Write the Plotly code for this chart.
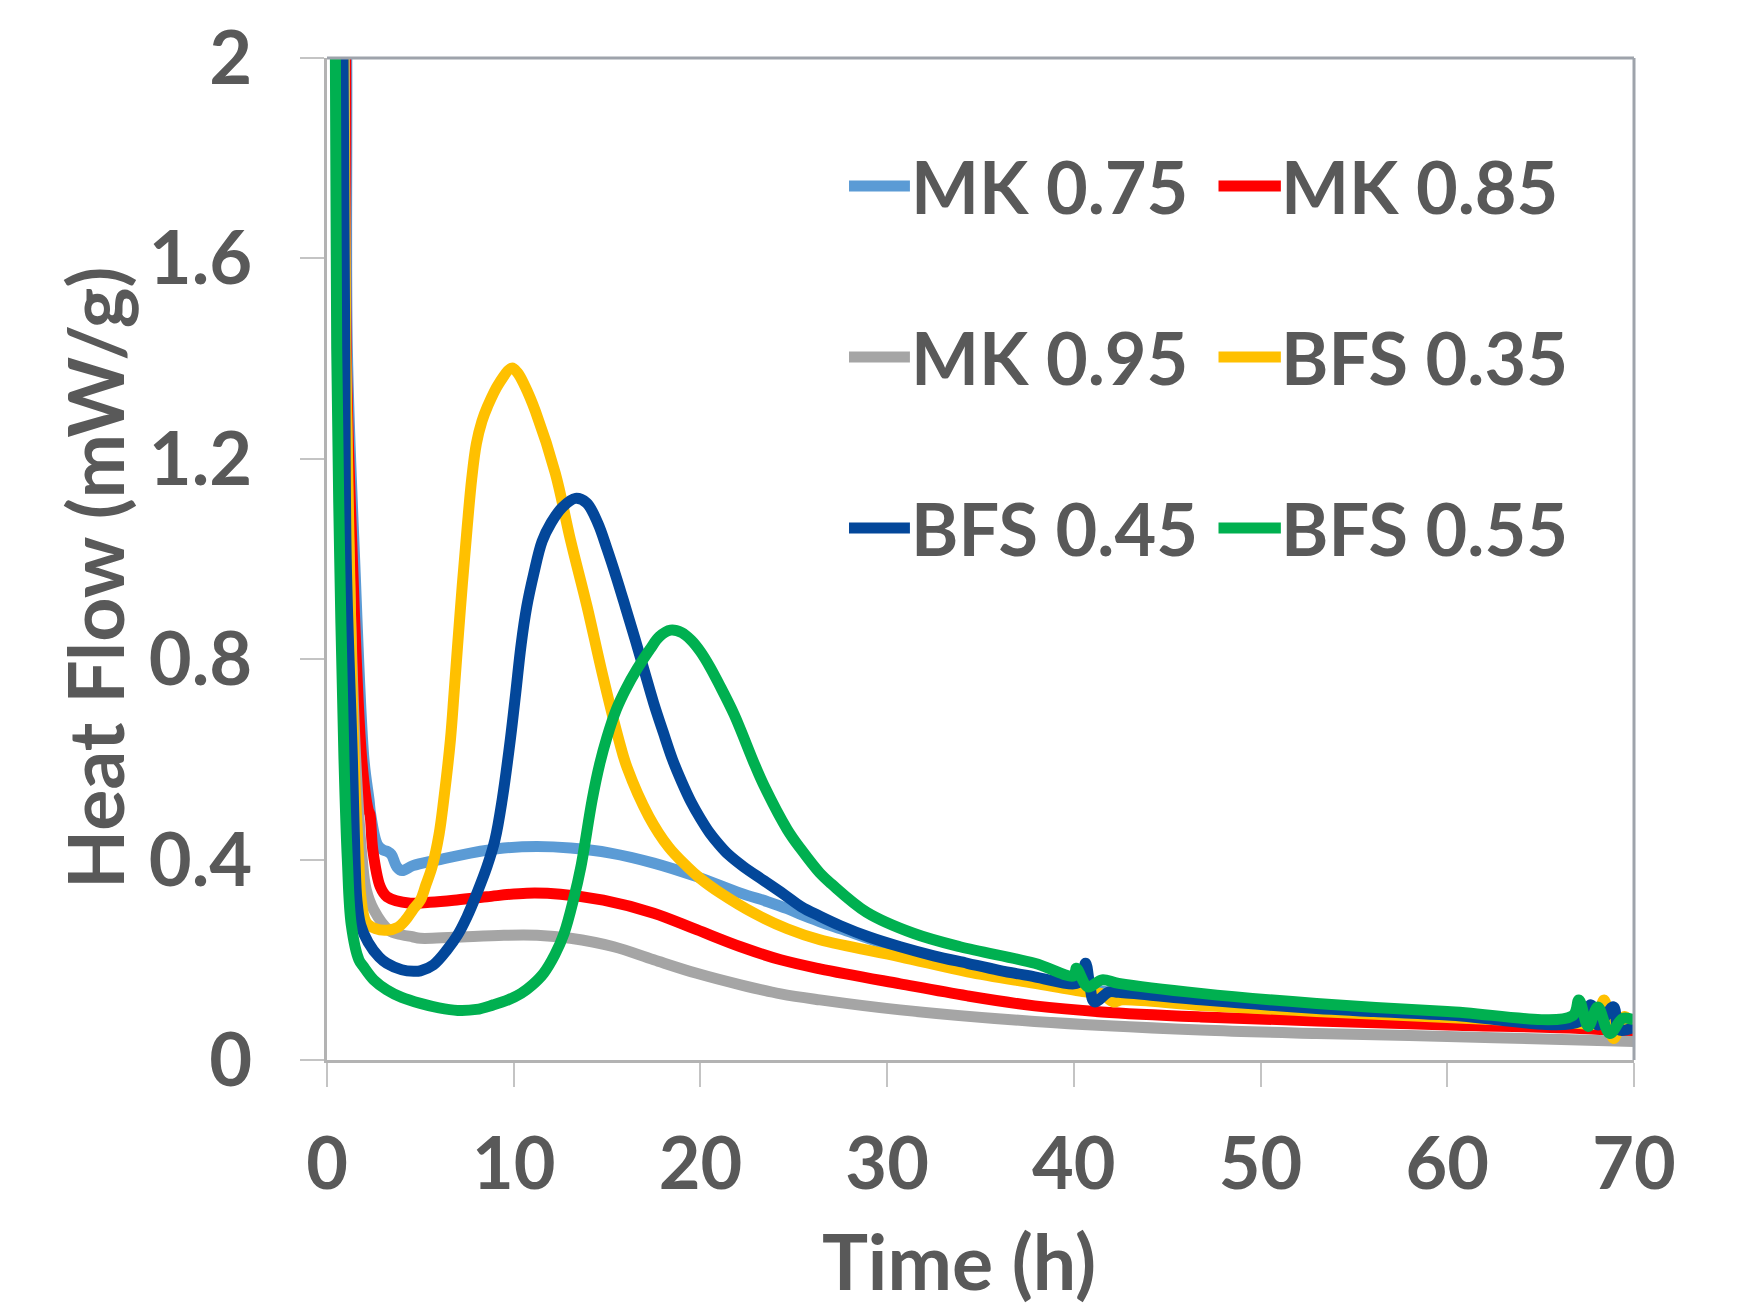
import plotly.graph_objects as go

# ---------------- data ----------------
series_names = ["MK 0.75", "MK 0.85", "MK 0.95", "BFS 0.35", "BFS 0.45", "BFS 0.55"]
series_colors = ["#5b9bd5", "#ff0000", "#a5a5a5", "#ffc000", "#03479a", "#00b050"]

mk075_x = [0.95, 1.06, 1.09, 1.48, 1.98, 2.25, 2.34, 2.7, 3.0, 3.25, 3.45, 3.75, 4.03, 4.6, 5.9, 7.68,
           9.47, 11.25, 13.04, 15.18, 17.5, 19.8, 22.15, 23.6, 24.65, 25.4, 26.4, 27.5, 30.7, 34.3,
           37.9, 40.0, 42.4, 46.8, 53.0, 60.0, 67.1, 70.0]
mk075_y = [2.6, 2.0, 1.42, 1.0, 0.6, 0.52, 0.49, 0.43, 0.419, 0.416, 0.41, 0.385, 0.378, 0.388, 0.399, 0.413,
           0.423, 0.426, 0.423, 0.413, 0.393, 0.366, 0.333, 0.316, 0.302, 0.29, 0.276, 0.262, 0.222, 0.19,
           0.163, 0.148, 0.133, 0.118, 0.1, 0.088, 0.075, 0.065]

mk085_x = [0.9, 1.0, 1.03, 1.36, 1.86, 2.2, 2.3, 2.45, 2.85, 3.21, 4.46, 5.5, 6.79, 8.57, 10.7, 12.5,
           14.8, 17.5, 19.8, 22.15, 24.3, 26.4, 30.7, 34.3, 37.9, 41.5, 46.8, 53.0, 60.0, 67.1, 70.0]
mk085_y = [2.6, 2.0, 1.42, 1.0, 0.6, 0.5, 0.49, 0.42, 0.346, 0.326, 0.313, 0.315, 0.319, 0.326, 0.333, 0.331,
           0.319, 0.293, 0.26, 0.226, 0.2, 0.182, 0.152, 0.128, 0.108, 0.096, 0.086, 0.078, 0.07, 0.063, 0.056]

mk095_x = [0.85, 0.93, 1.0, 1.18, 1.54, 1.89, 2.1, 2.5, 3.32, 4.0, 4.57, 5.0, 6.79, 9.47, 11.25, 13.04,
           15.36, 17.5, 19.8, 22.15, 24.3, 26.4, 30.7, 37.9, 46.8, 53.0, 60.0, 67.1, 70.0]
mk095_y = [2.6, 2.0, 1.42, 1.0, 0.6, 0.399, 0.34, 0.3, 0.259, 0.25, 0.246, 0.243, 0.245, 0.249, 0.249, 0.243,
           0.226, 0.2, 0.173, 0.15, 0.132, 0.12, 0.1, 0.077, 0.06, 0.053, 0.047, 0.04, 0.037]

bfs035_x = [0.8, 0.9, 1.0, 1.2, 1.45, 1.7, 1.8, 2.1, 2.6, 3.2, 3.8, 4.2, 4.6, 5.0, 5.3, 5.63, 6.0, 6.25,
            6.61, 6.8, 7.0, 7.25, 7.5, 7.75, 8.0, 8.3, 8.6, 9.2, 9.9, 10.2, 10.6, 11.16, 12.23, 13.04, 13.93,
            14.74, 15.63, 16.07, 17.24, 18.3, 19.29, 20.0, 21.08, 22.87, 24.65, 26.4, 30.7, 34.3, 37.9, 40.6,
            41.5, 42.1, 42.6, 46.8, 53.0, 60.0, 67.1, 67.9, 68.4, 68.9, 69.5, 70.0]
bfs035_y = [2.6, 2.0, 1.42, 1.0, 0.6, 0.40, 0.33, 0.275, 0.262, 0.259, 0.265, 0.279, 0.3, 0.319, 0.35, 0.386,
            0.45, 0.519, 0.639, 0.73, 0.83, 0.95, 1.06, 1.16, 1.23, 1.275, 1.305, 1.35, 1.381, 1.372, 1.345,
            1.295, 1.171, 1.038, 0.905, 0.772, 0.639, 0.584, 0.486, 0.425, 0.386, 0.362, 0.333, 0.293, 0.262,
            0.24, 0.206, 0.176, 0.153, 0.136, 0.132, 0.116, 0.12, 0.109, 0.097, 0.085, 0.073, 0.072, 0.12,
            0.043, 0.087, 0.058]

bfs045_x = [0.75, 0.86, 0.95, 1.03, 1.36, 1.5, 1.6, 1.8, 2.2, 2.8, 3.2, 4.0, 4.64, 5.0, 5.7, 6.43, 7.0,
            7.5, 8.0, 8.57, 9.0, 9.38, 9.82, 10.1, 10.4, 10.7, 11.07, 11.52, 12.0, 12.6, 13.3, 13.9, 14.5,
            15.0, 15.5, 16.0, 16.5, 17.0, 17.5, 18.0, 18.5, 19.0, 19.5, 20.0, 20.5, 21.0, 21.5, 22.3, 23.4,
            24.5, 25.4, 26.4, 27.5, 29.0, 30.7, 32.5, 34.3, 36.0, 37.9, 40.0, 40.35, 40.63, 40.85, 41.1,
            41.9, 42.4, 46.8, 53.0, 60.0, 67.1, 67.7, 68.06, 68.9, 69.2, 70.0]
bfs045_y = [2.6, 2.0, 1.42, 1.0, 0.6, 0.4, 0.32, 0.27, 0.235, 0.205, 0.193, 0.18, 0.177, 0.178, 0.19, 0.22,
            0.25, 0.286, 0.33, 0.386, 0.44, 0.519, 0.64, 0.73, 0.83, 0.905, 0.97, 1.035, 1.072, 1.103, 1.121,
            1.112, 1.072, 1.02, 0.963, 0.902, 0.84, 0.776, 0.712, 0.655, 0.6, 0.555, 0.515, 0.482, 0.453,
            0.43, 0.41, 0.386, 0.358, 0.33, 0.306, 0.287, 0.268, 0.246, 0.226, 0.208, 0.193, 0.179, 0.166,
            0.152, 0.158, 0.193, 0.15, 0.116, 0.136, 0.135, 0.12, 0.103, 0.09, 0.077, 0.11, 0.07, 0.106,
            0.06, 0.066]

bfs055_x = [0.35, 0.45, 0.52, 0.68, 0.91, 1.09, 1.3, 1.71, 1.96, 2.5, 3.2, 4.0, 5.0, 6.0, 7.0, 8.0, 8.9,
            9.7, 10.4, 11.0, 11.6, 12.2, 12.7, 13.2, 13.6, 14.2, 14.6, 15.0, 15.5, 16.0, 16.6, 17.3, 17.8,
            18.4, 19.0, 19.5, 20.0, 20.5, 21.0, 21.8, 22.9, 23.4, 24.65, 25.4, 26.4, 27.0, 28.9, 31.4, 33.9,
            37.9, 40.0, 40.13, 40.76, 41.5, 42.4, 46.8, 53.0, 60.0, 66.7, 67.05, 67.55, 68.06, 68.7,
            69.4, 70.0]
bfs055_y = [2.6, 2.0, 1.42, 1.0, 0.6, 0.4, 0.27, 0.2, 0.186, 0.16, 0.14, 0.125, 0.113, 0.104, 0.099, 0.101,
            0.11, 0.12, 0.133, 0.15, 0.173, 0.21, 0.253, 0.32, 0.386, 0.519, 0.59, 0.645, 0.7, 0.74, 0.78,
            0.82, 0.845, 0.858, 0.853, 0.838, 0.815, 0.785, 0.75, 0.69, 0.59, 0.548, 0.46, 0.42, 0.373, 0.352,
            0.295, 0.253, 0.226, 0.193, 0.168, 0.183, 0.146, 0.16, 0.153, 0.133, 0.113, 0.097, 0.088, 0.12,
            0.067, 0.106, 0.053, 0.083, 0.08]

series_x = [mk075_x, mk085_x, mk095_x, bfs035_x, bfs045_x, bfs055_x]
series_y = [mk075_y, mk085_y, mk095_y, bfs035_y, bfs045_y, bfs055_y]

x_ticks = [0, 10, 20, 30, 40, 50, 60, 70]
y_ticks = [0, 0.4, 0.8, 1.2, 1.6, 2.0]
y_tick_labels = ["0", "0.4", "0.8", "1.2", "1.6", "2"]

# ---------------- figure ----------------
FONT = "Lato"
TXT = "#595959"

fig = go.Figure()
for name, color, xs, ys in zip(series_names, series_colors, series_x, series_y):
    fig.add_trace(go.Scatter(x=xs, y=ys, mode="lines", name=name, showlegend=False,
                             line=dict(color=color, width=11, shape="spline", smoothing=1.0)))

fig.update_layout(
    width=1739, height=1303,
    margin=dict(l=319, r=113, t=50, b=251, pad=0, autoexpand=False),
    paper_bgcolor="white", plot_bgcolor="white",
    font=dict(family=FONT, color=TXT),
    showlegend=False,
)
fig.update_xaxes(range=[0, 70], tickvals=x_ticks, showgrid=False, zeroline=False, automargin=False,
                 showline=True, linecolor="#b3b3b3", linewidth=3,
                 ticks="outside", ticklen=24, tickwidth=2, tickcolor="#c4c4c4",
                 tickfont=dict(family=FONT, size=72, color=TXT, weight="bold"),
                 ticklabelstandoff=16)
fig.update_yaxes(range=[0, 2], tickvals=y_ticks, ticktext=y_tick_labels, showgrid=False, zeroline=False,
                 automargin=False,
                 showline=True, linecolor="#b3b3b3", linewidth=3,
                 ticks="outside", ticklen=24, tickwidth=2, tickcolor="#c4c4c4",
                 tickfont=dict(family=FONT, size=74, color=TXT, weight="bold"),
                 ticklabelstandoff=33)

# top and right border of plot area
fig.add_shape(type="line", xref="paper", yref="paper", x0=0, x1=1, y0=1, y1=1,
              line=dict(color="#9ea3ab", width=3))
fig.add_shape(type="line", xref="paper", yref="paper", x0=1, x1=1, y0=0, y1=1,
              line=dict(color="#9ea3ab", width=3))

# axis titles
fig.add_annotation(text="Time (h)", xref="paper", yref="paper", x=0.4836, y=-0.2000,
                   xanchor="center", yanchor="middle", showarrow=False,
                   font=dict(family=FONT, size=77, color=TXT, weight="bold"))
fig.add_annotation(text="Heat Flow (mW/g)", xref="paper", yref="paper", x=-0.1783, y=0.482,
                   xanchor="center", yanchor="middle", showarrow=False, textangle=-90,
                   font=dict(family=FONT, size=77, color=TXT, weight="bold"))

# manual legend (2 columns x 3 rows)
leg_line_x0 = [0.3994, 0.6821]
leg_line_x1 = [0.4460, 0.7298]
leg_text_x = [0.4452, 0.7287]
leg_row_y = [0.8723, 0.7016, 0.5309]
for i, (name, color) in enumerate(zip(series_names, series_colors)):
    col = i % 2
    row = i // 2
    fig.add_shape(type="line", xref="paper", yref="paper",
                  x0=leg_line_x0[col], x1=leg_line_x1[col], y0=leg_row_y[row], y1=leg_row_y[row],
                  line=dict(color=color, width=11))
    fig.add_annotation(text=name, xref="paper", yref="paper", x=leg_text_x[col], y=leg_row_y[row],
                       xanchor="left", yanchor="middle", showarrow=False,
                       font=dict(family=FONT, size=72, color=TXT, weight="bold"))

fig.write_html("out.html")
